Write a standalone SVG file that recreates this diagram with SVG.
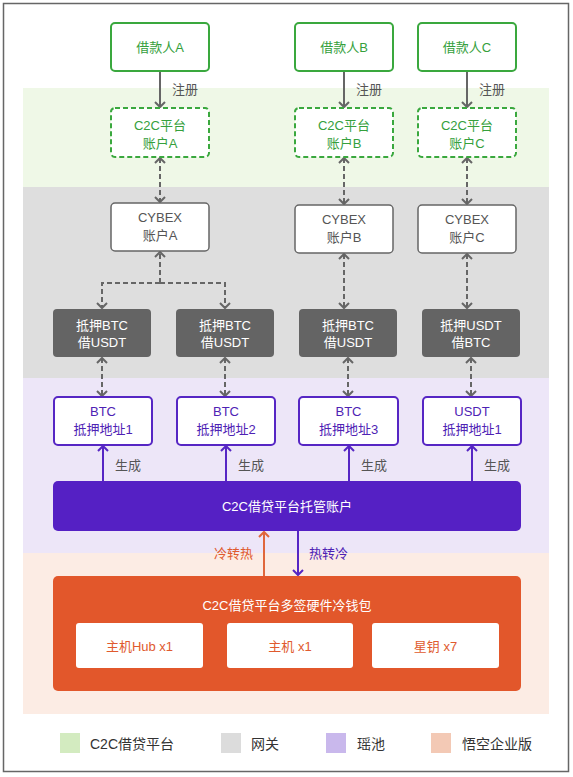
<svg xmlns="http://www.w3.org/2000/svg" width="573" height="777" viewBox="0 0 573 777">
<defs>
<style>
text{font-family:"Liberation Sans","Noto Sans CJK SC",sans-serif;font-size:13px;text-anchor:middle}
.g{fill:#fff;stroke:#3aa83e;stroke-width:2}
.gd{fill:#fff;stroke:#3aa83e;stroke-width:2;stroke-dasharray:5 3}
.gt{fill:#35a03c}
.cy{fill:#fff;stroke:#666;stroke-width:1.5}
.cyt{fill:#555}
.dk{fill:#646464}
.wt{fill:#fff}
.pu{fill:#fff;stroke:#5626c4;stroke-width:2}
.put{fill:#4e22b4}
.ow{fill:#fff}
.ot{fill:#e05a2e}
.lbl{fill:#555;text-anchor:start}
.ln{fill:none;stroke:#666;stroke-width:2}
.dl{fill:none;stroke:#666;stroke-width:2;stroke-dasharray:5 3}
.pl{fill:none;stroke:#5626c4;stroke-width:2}
.ol{fill:none;stroke:#e0673c;stroke-width:2}
.lg{fill:#333;text-anchor:start;font-size:14px}
</style>
<marker id="ag" viewBox="-7 -7 9 14" refX="0" refY="0" markerWidth="9" markerHeight="14" markerUnits="userSpaceOnUse" orient="auto-start-reverse">
<path d="M-5,-5 L0,0 L-5,5" fill="none" stroke="#666" stroke-width="2"/>
</marker>
<marker id="ap" viewBox="-7 -7 9 14" refX="0" refY="0" markerWidth="9" markerHeight="14" markerUnits="userSpaceOnUse" orient="auto">
<path d="M-5,-5 L0,0 L-5,5" fill="none" stroke="#5626c4" stroke-width="2"/>
</marker>
<marker id="ao" viewBox="-7 -7 9 14" refX="0" refY="0" markerWidth="9" markerHeight="14" markerUnits="userSpaceOnUse" orient="auto">
<path d="M-5,-5 L0,0 L-5,5" fill="none" stroke="#e0673c" stroke-width="2"/>
</marker>
</defs>
<rect x="0" y="0" width="573" height="777" fill="#fff"/>
<rect x="3.5" y="3.5" width="565" height="768" fill="#fff" stroke="#666" stroke-width="1.5"/>
<g id="bands">
<rect x="23" y="88" width="526" height="99" fill="#eff8e7"/>
<rect x="23" y="187" width="526" height="191" fill="#dedede"/>
<rect x="23" y="378" width="526" height="175" fill="#ede6f8"/>
<rect x="23" y="553" width="526" height="161" fill="#fcece4"/>
</g>
<g id="connectors">
<line class="ln" x1="160" y1="71" x2="160" y2="107" marker-end="url(#ag)"/>
<line class="ln" x1="344" y1="71" x2="344" y2="107" marker-end="url(#ag)"/>
<line class="ln" x1="467" y1="71" x2="467" y2="107" marker-end="url(#ag)"/>
<text class="lbl" x="172" y="94">注册</text>
<text class="lbl" x="356" y="94">注册</text>
<text class="lbl" x="479" y="94">注册</text>
<line class="dl" x1="160" y1="158" x2="160" y2="202" marker-start="url(#ag)" marker-end="url(#ag)"/>
<line class="dl" x1="344" y1="158" x2="344" y2="204" marker-start="url(#ag)" marker-end="url(#ag)"/>
<line class="dl" x1="467" y1="158" x2="467" y2="204" marker-start="url(#ag)" marker-end="url(#ag)"/>
<line class="dl" x1="160" y1="283" x2="160" y2="252" marker-end="url(#ag)"/>
<path class="dl" d="M160,283 H102 V308" marker-end="url(#ag)"/>
<path class="dl" d="M160,283 H225 V308" marker-end="url(#ag)"/>
<line class="dl" x1="344" y1="254" x2="344" y2="308" marker-start="url(#ag)" marker-end="url(#ag)"/>
<line class="dl" x1="467" y1="254" x2="467" y2="308" marker-start="url(#ag)" marker-end="url(#ag)"/>
<line class="dl" x1="102" y1="358" x2="102" y2="396" marker-start="url(#ag)" marker-end="url(#ag)"/>
<line class="dl" x1="225" y1="358" x2="225" y2="396" marker-start="url(#ag)" marker-end="url(#ag)"/>
<line class="dl" x1="348" y1="358" x2="348" y2="396" marker-start="url(#ag)" marker-end="url(#ag)"/>
<line class="dl" x1="471" y1="358" x2="471" y2="396" marker-start="url(#ag)" marker-end="url(#ag)"/>
<line class="pl" x1="103" y1="481" x2="103" y2="446" marker-end="url(#ap)"/>
<line class="pl" x1="226" y1="481" x2="226" y2="446" marker-end="url(#ap)"/>
<line class="pl" x1="349" y1="481" x2="349" y2="446" marker-end="url(#ap)"/>
<line class="pl" x1="472" y1="481" x2="472" y2="446" marker-end="url(#ap)"/>
<text class="lbl put" x="115" y="470">生成</text>
<text class="lbl put" x="238" y="470">生成</text>
<text class="lbl put" x="361" y="470">生成</text>
<text class="lbl put" x="484" y="470">生成</text>
<line class="ol" x1="264" y1="576" x2="264" y2="532" marker-end="url(#ao)"/>
<line class="pl" x1="298" y1="531" x2="298" y2="575" marker-end="url(#ap)"/>
<text class="ot" x="253" y="558" style="text-anchor:end">冷转热</text>
<text class="put" x="309" y="558" style="text-anchor:start">热转冷</text>
</g>
<g id="borrowerA"><rect class="g" x="111" y="23" width="98" height="48" rx="4"/><text class="gt" x="160" y="51.5">借款人A</text></g>
<g id="borrowerB"><rect class="g" x="295" y="23" width="98" height="48" rx="4"/><text class="gt" x="344" y="51.5">借款人B</text></g>
<g id="borrowerC"><rect class="g" x="418" y="23" width="98" height="48" rx="4"/><text class="gt" x="467" y="51.5">借款人C</text></g>
<g id="c2cA"><rect class="gd" x="111" y="108" width="98" height="49" rx="4"/><text class="gt" x="160" y="129.5">C2C平台</text><text class="gt" x="160" y="148">账户A</text></g>
<g id="c2cB"><rect class="gd" x="295" y="108" width="98" height="49" rx="4"/><text class="gt" x="344" y="129.5">C2C平台</text><text class="gt" x="344" y="148">账户B</text></g>
<g id="c2cC"><rect class="gd" x="418" y="108" width="98" height="49" rx="4"/><text class="gt" x="467" y="129.5">C2C平台</text><text class="gt" x="467" y="148">账户C</text></g>
<g id="cybexA"><rect class="cy" x="111" y="203" width="98" height="48" rx="4"/><text class="cyt" x="160" y="222">CYBEX</text><text class="cyt" x="160" y="240">账户A</text></g>
<g id="cybexB"><rect class="cy" x="295" y="205" width="98" height="48" rx="4"/><text class="cyt" x="344" y="224">CYBEX</text><text class="cyt" x="344" y="241.5">账户B</text></g>
<g id="cybexC"><rect class="cy" x="418" y="205" width="98" height="48" rx="4"/><text class="cyt" x="467" y="224">CYBEX</text><text class="cyt" x="467" y="241.5">账户C</text></g>
<g id="loan1"><rect class="dk" x="53" y="309" width="98" height="48" rx="4"/><text class="wt" x="102" y="329.5">抵押BTC</text><text class="wt" x="102" y="347">借USDT</text></g>
<g id="loan2"><rect class="dk" x="176" y="309" width="98" height="48" rx="4"/><text class="wt" x="225" y="329.5">抵押BTC</text><text class="wt" x="225" y="347">借USDT</text></g>
<g id="loan3"><rect class="dk" x="299" y="309" width="98" height="48" rx="4"/><text class="wt" x="348" y="329.5">抵押BTC</text><text class="wt" x="348" y="347">借USDT</text></g>
<g id="loan4"><rect class="dk" x="422" y="309" width="98" height="48" rx="4"/><text class="wt" x="471" y="329.5">抵押USDT</text><text class="wt" x="471" y="347">借BTC</text></g>
<g id="addr1"><rect class="pu" x="54" y="397" width="98" height="48" rx="4"/><text class="put" x="103" y="416">BTC</text><text class="put" x="103" y="434">抵押地址1</text></g>
<g id="addr2"><rect class="pu" x="177" y="397" width="98" height="48" rx="4"/><text class="put" x="226" y="416">BTC</text><text class="put" x="226" y="434">抵押地址2</text></g>
<g id="addr3"><rect class="pu" x="299" y="397" width="99" height="48" rx="4"/><text class="put" x="348.5" y="416">BTC</text><text class="put" x="348.5" y="434">抵押地址3</text></g>
<g id="addr4"><rect class="pu" x="423" y="397" width="98" height="48" rx="4"/><text class="put" x="472" y="416">USDT</text><text class="put" x="472" y="434">抵押地址1</text></g>
<g id="custody"><rect x="53" y="481" width="468" height="50" rx="5" fill="#5520c4"/><text class="wt" x="287" y="511">C2C借贷平台托管账户</text></g>
<g id="wallet">
<rect x="53" y="576" width="468" height="115" rx="5" fill="#e2572b"/>
<text class="wt" x="287" y="609.5">C2C借贷平台多签硬件冷钱包</text>
<rect class="ow" x="76" y="623" width="127" height="45" rx="3"/><text class="ot" x="139.5" y="650.5">主机Hub x1</text>
<rect class="ow" x="227" y="623" width="126" height="45" rx="3"/><text class="ot" x="290" y="650.5">主机 x1</text>
<rect class="ow" x="372" y="623" width="127" height="45" rx="3"/><text class="ot" x="435.5" y="650.5">星钥 x7</text>
</g>
<g id="legend">
<rect x="60" y="733" width="20" height="20" fill="#d3ebc0"/><text class="lg" x="90" y="749">C2C借贷平台</text>
<rect x="221" y="733" width="20" height="20" fill="#dcdcdc"/><text class="lg" x="251" y="749">网关</text>
<rect x="326" y="733" width="20" height="20" fill="#c9b8ec"/><text class="lg" x="357" y="749">瑶池</text>
<rect x="431" y="733" width="20" height="20" fill="#f3c9b5"/><text class="lg" x="462" y="749">悟空企业版</text>
</g>
</svg>
